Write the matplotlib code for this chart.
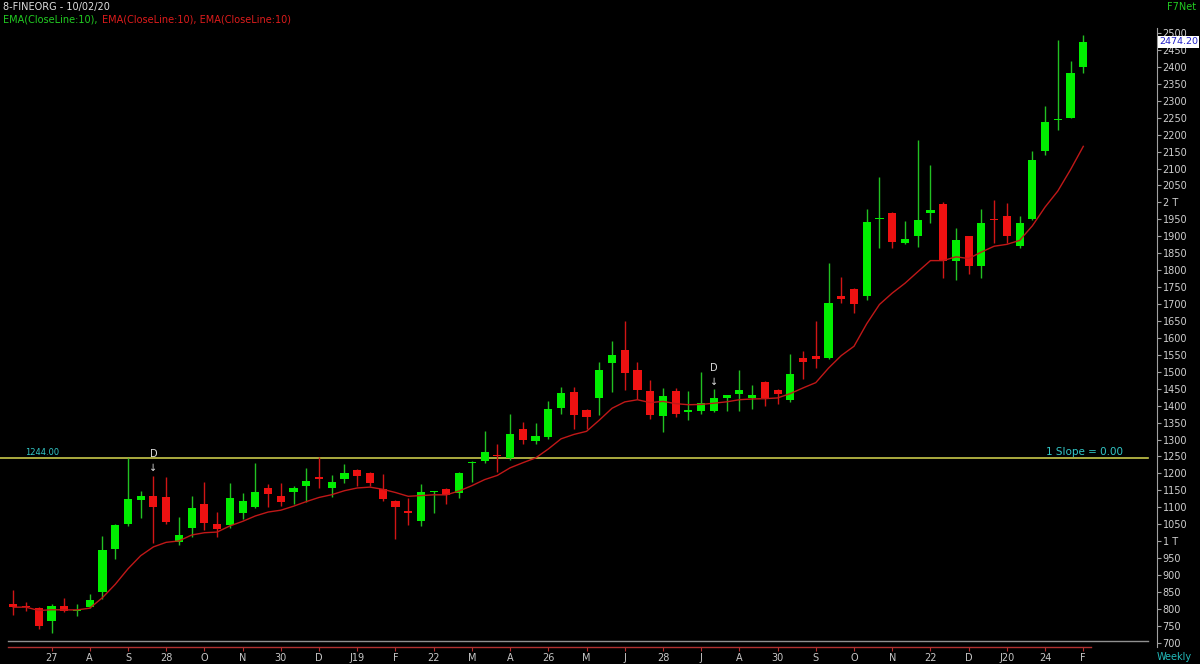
import numpy as np
import pandas as pd
import matplotlib
matplotlib.use("Agg")
import matplotlib.pyplot as plt
import matplotlib.transforms as mtransforms
from matplotlib.lines import Line2D

# weekly OHLC (oldest first)
opens = [813, 810, 803, 765, 808, 795, 807, 849, 978, 1050,
         1120, 1133, 1129, 998, 1040, 1111, 1052, 1049, 1082, 1102,
         1158, 1133, 1144, 1164, 1188, 1156, 1184, 1210, 1202, 1153,
         1118, 1089, 1060, 1145, 1154, 1141, 1231, 1236, 1255, 1245,
         1331, 1295, 1307, 1393, 1440, 1388, 1424, 1525, 1563, 1505,
         1443, 1369, 1443, 1380, 1385, 1385, 1423, 1434, 1423, 1470,
         1446, 1418, 1540, 1547, 1541, 1723, 1743, 1724, 1950, 1969,
         1879, 1901, 1969, 1996, 1828, 1900, 1812, 1952, 1959, 1870,
         1951, 2152, 2243, 2250, 2400]
highs = [856, 820, 805, 813, 831, 813, 844, 1015, 1052, 1244,
         1148, 1193, 1188, 1072, 1133, 1176, 1085, 1171, 1141, 1230,
         1168, 1173, 1163, 1215, 1247, 1196, 1227, 1212, 1205, 1197,
         1120, 1128, 1168, 1149, 1156, 1205, 1236, 1325, 1288, 1376,
         1351, 1348, 1415, 1455, 1455, 1390, 1530, 1590, 1650, 1530,
         1476, 1451, 1452, 1443, 1500, 1448, 1432, 1505, 1460, 1472,
         1448, 1552, 1560, 1651, 1822, 1781, 1748, 1980, 2076, 1971,
         1945, 2184, 2110, 2000, 1923, 1902, 1980, 2006, 1999, 1960,
         2151, 2284, 2478, 2418, 2494]
lows = [783, 795, 742, 730, 790, 780, 802, 829, 948, 1044,
        1067, 995, 1052, 988, 1012, 1032, 1012, 1039, 1065, 1099,
        1102, 1104, 1111, 1116, 1156, 1131, 1171, 1163, 1163, 1118,
        1007, 1047, 1044, 1082, 1111, 1128, 1176, 1232, 1203, 1240,
        1288, 1288, 1302, 1376, 1331, 1330, 1372, 1441, 1446, 1421,
        1360, 1323, 1367, 1358, 1376, 1381, 1385, 1385, 1389, 1398,
        1404, 1411, 1479, 1512, 1538, 1702, 1674, 1711, 1864, 1866,
        1876, 1868, 1940, 1777, 1771, 1790, 1777, 1880, 1880, 1864,
        1947, 2140, 2213, 2248, 2381]
closes = [805, 806, 750, 808, 795, 797, 825, 973, 1049, 1124,
          1132, 1100, 1057, 1019, 1097, 1055, 1036, 1126, 1119, 1146,
          1138, 1116, 1156, 1178, 1184, 1174, 1202, 1193, 1171, 1124,
          1101, 1082, 1144, 1147, 1136, 1200, 1234, 1262, 1250, 1317,
          1299, 1309, 1391, 1437, 1373, 1366, 1505, 1550, 1496, 1446,
          1371, 1429, 1376, 1388, 1408, 1423, 1430, 1445, 1430, 1424,
          1433, 1493, 1528, 1538, 1704, 1714, 1699, 1942, 1954, 1883,
          1892, 1947, 1977, 1828, 1890, 1812, 1939, 1948, 1901, 1940,
          2124, 2236, 2247, 2381, 2474.2]

x_labels = ["27", "A", "S", "28", "O", "N", "30", "D", "J19", "F", "22", "M", "A", "26",
            "M", "J", "28", "J", "A", "30", "S", "O", "N", "22", "D", "J20", "24", "F"]
line_level = 1244.0
d_marks = [11, 55]

o = np.array(opens, float)
h = np.array(highs, float)
l = np.array(lows, float)
c = np.array(closes, float)
x = np.arange(len(c))
ema = pd.Series(c).ewm(span=10, adjust=False).mean()

W, H = 1200, 664
fig = plt.figure(figsize=(12, 6.64), dpi=100, facecolor="black")
# axes from px x 0..1157, y 28..647
ax = fig.add_axes([0, (H - 647) / H, 1157 / W, (647 - 28) / H], facecolor="black")

green, red = "#00ee00", "#ee1111"
up = c >= o
cols = np.where(up, green, red)
wick_cols = np.where(up, "#22c022", "#d01515")

ax.vlines(x, l, h, colors=wick_cols, linewidth=1.0, zorder=2)
body_h = np.maximum(np.abs(c - o), 3)
body_b = np.minimum(o, c)
ax.bar(x, body_h, bottom=body_b, width=0.64, color=cols, linewidth=0, zorder=3)

ax.plot(x, ema, color="#c01818", linewidth=1.0, zorder=4)

ax.axhline(line_level, xmin=0, xmax=1148 / 1157, color="#c8c84a", linewidth=1.2, zorder=1)
ax.text(0.92, line_level + 4, "1244.00", color="#33c8c8", fontsize=6, ha="left", va="bottom")
ax.text(87.1, line_level + 4, "1 Slope = 0.00", color="#33c8c8", fontsize=7.5, ha="right", va="bottom")

for i in d_marks:
    ax.annotate("D", (i, h[i]), xytext=(0, 12), textcoords="offset points",
                ha="center", va="bottom", color="#dddddd", fontsize=7)
    ax.annotate("\u2193", (i, h[i]), xytext=(0, 2), textcoords="offset points",
                ha="center", va="bottom", color="#dddddd", fontsize=7)

ax.set_xlim(-13.3 / 12.738, (1157 - 13.3) / 12.738)
ax.set_ylim(687.5, 2514.8)

for s in ["top", "left", "bottom"]:
    ax.spines[s].set_visible(False)
ax.spines["right"].set_color("#a0a0a0")

yt = np.arange(700, 2501, 50)
ax.yaxis.tick_right()
ax.set_yticks(yt)
ax.set_yticklabels(["2 T" if v == 2000 else "1 T" if v == 1000 else str(v) for v in yt])
ax.tick_params(axis="y", colors="#a0a0a0", labelcolor="#d0d0d0", length=3,
               width=0.8, labelsize=7, pad=1)

ax.set_xticks(np.arange(3, 85, 3))
ax.set_xticklabels(x_labels)
ax.tick_params(axis="x", colors="#b03030", labelcolor="#c8c8c8", length=3,
               width=0.8, labelsize=7, pad=1)

# bottom date strip lines
bt = mtransforms.blended_transform_factory(ax.transData, ax.transAxes)
ax.plot([-0.42, 84.6], [0, 0], color="#b03030", linewidth=1.0, transform=bt, clip_on=False)
fig.add_artist(Line2D([8 / W, 1148 / W], [1 - 641 / H] * 2, color="#909090",
                      linewidth=1.0, transform=fig.transFigure))

# last price tag
fig.text(1198 / W, 1 - 42 / H, "%.2f" % c[-1], color="#2020c8", fontsize=6.8,
         ha="right", va="center",
         bbox=dict(facecolor="white", edgecolor="none", pad=0.8), zorder=5)

# header texts
fig.text(3 / W, 1 - 7 / H, "8-FINEORG - 10/02/20", color="#e0e0e0", fontsize=7, va="center")
fig.text(3 / W, 1 - 20 / H, "EMA(CloseLine:10), ", color="#22cc22", fontsize=7, va="center")
fig.text(102 / W, 1 - 20 / H, "EMA(CloseLine:10), EMA(CloseLine:10)", color="#dd1c1c", fontsize=7, va="center")
fig.text(1196 / W, 1 - 7 / H, "F7Net", color="#22cc22", fontsize=7, ha="right", va="center")
fig.text(1157 / W, 1 - 657 / H, "Weekly", color="#22bbbb", fontsize=7, ha="left", va="center")

fig.savefig("out.png", dpi=100, facecolor="black")
